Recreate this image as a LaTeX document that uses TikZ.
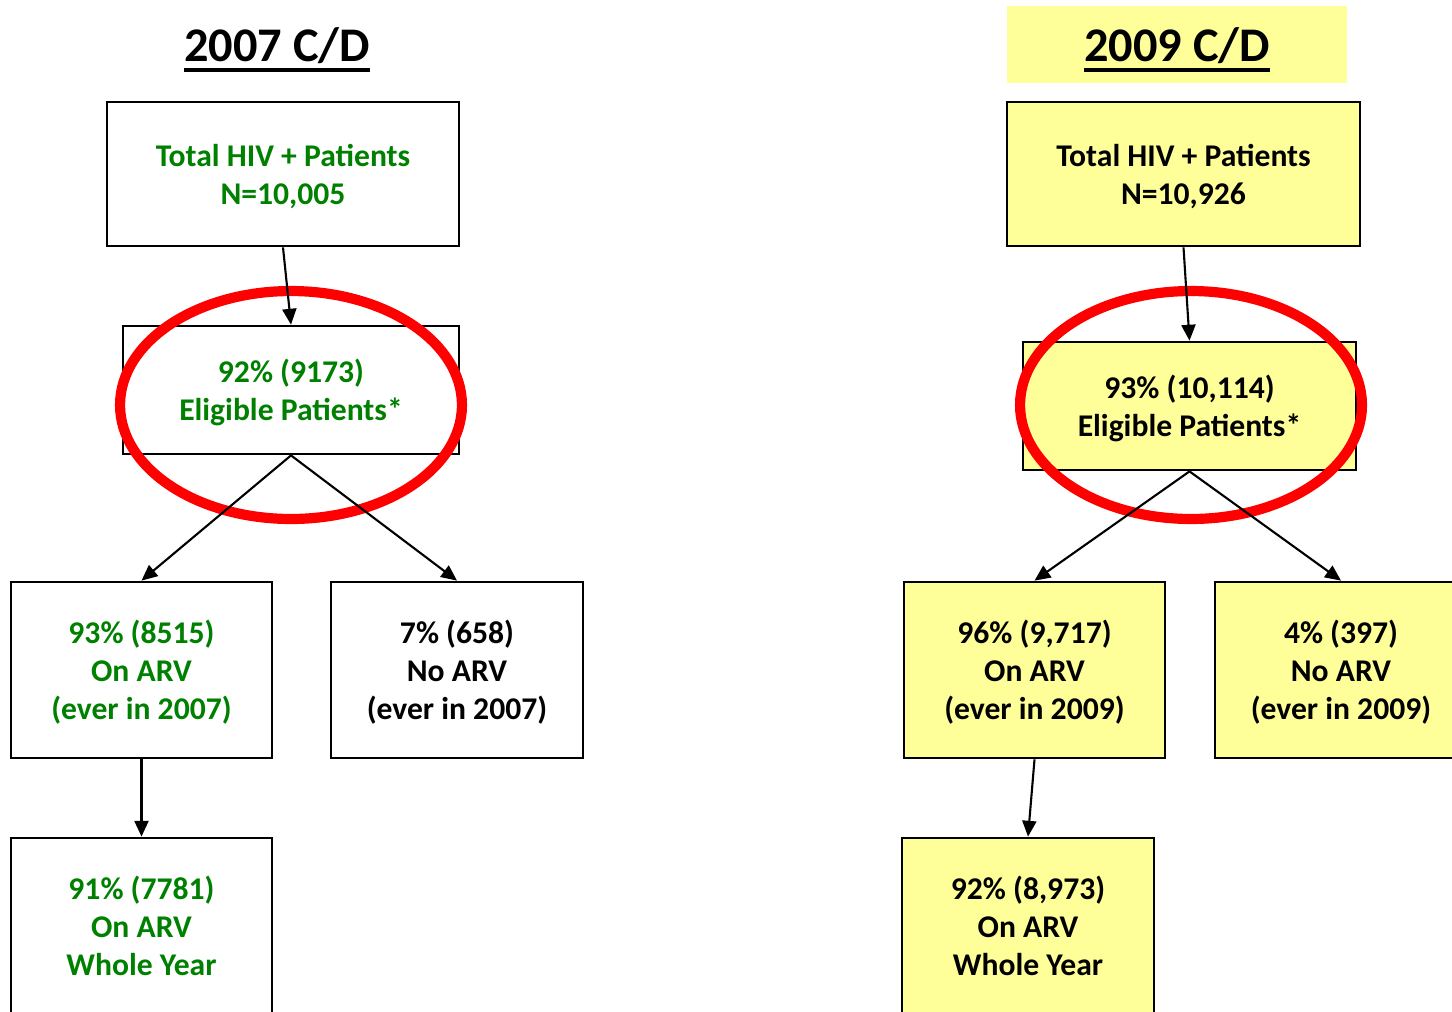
\documentclass[tikz,border=0pt]{standalone}
\usepackage{fontspec}
\setmainfont{Carlito}
\usetikzlibrary{arrows.meta}
\definecolor{cdgreen}{RGB}{0,128,0}
\definecolor{cdyellow}{RGB}{255,255,153}

\begin{document}
\begin{tikzpicture}[x=0.02cm, y=-0.02cm,
  box/.style={draw, line width=1.6pt, align=center, inner sep=0pt,
    text depth=-2pt, font=\fontsize{18}{21.5}\selectfont\bfseries},
  gbox/.style={box, text=cdgreen},
  ybox/.style={box, fill=cdyellow},
  heading/.style={inner sep=0pt, font=\fontsize{27.5}{32}\selectfont\bfseries},
  rule/.style={line width=2.2pt},
  flow/.style={line width=1.2pt, -{Triangle[length=9pt, width=8pt]}},
  ring/.style={red, line width=5.8pt}]
\useasboundingbox (0,0) rectangle (1452,1011);
\clip (0,0) rectangle (1452,1011);

% 2007
\node [heading] (title07) at (277,46) {2007 C/D};
\draw [rule] ([yshift=-4.5pt]title07.base west) -- ([yshift=-4.5pt]title07.base east);
\node [gbox, minimum width=7.04cm, minimum height=2.88cm] (top07) at (283,174)
  {Total HIV + Patients\\N=10,005};
\node [gbox, minimum width=6.72cm, minimum height=2.56cm] (elig07) at (291,390)
  {92\% (9173)\\Eligible Patients*};
\node [gbox, minimum width=5.22cm, minimum height=3.52cm] (on07) at (141.5,670)
  {93\% (8515)\\On ARV\\(ever in 2007)};
\node [box, minimum width=5.04cm, minimum height=3.52cm] (no07) at (457,670)
  {7\% (658)\\No ARV\\(ever in 2007)};
\node [gbox, minimum width=5.22cm, minimum height=3.52cm] (whole07) at (141.5,926)
  {91\% (7781)\\On ARV\\Whole Year};
\draw [ring] (291,405) ellipse [x radius=3.42cm, y radius=2.28cm];
\draw [flow] (top07.south) -- (elig07.north);
\draw [flow] (elig07.south) -- (on07.north);
\draw [flow] (elig07.south) -- (no07.north);
\draw [flow] (on07.south) -- (whole07.north);

% 2009
\node [fill=cdyellow, minimum width=6.8cm, minimum height=1.54cm] (band09) at (1177,44.5) {};
\node [heading] (title09) at (1177,46) {2009 C/D};
\draw [rule] ([yshift=-4.5pt]title09.base west) -- ([yshift=-4.5pt]title09.base east);
\node [ybox, minimum width=7.06cm, minimum height=2.88cm] (top09) at (1183.5,174)
  {Total HIV + Patients\\N=10,926};
\node [ybox, minimum width=6.66cm, minimum height=2.56cm] (elig09) at (1189.5,406)
  {93\% (10,114)\\Eligible Patients*};
\node [ybox, minimum width=5.22cm, minimum height=3.52cm] (on09) at (1034.5,670)
  {96\% (9,717)\\On ARV\\(ever in 2009)};
\node [ybox, minimum width=5.04cm, minimum height=3.52cm] (no09) at (1341,670)
  {4\% (397)\\No ARV\\(ever in 2009)};
\node [ybox, minimum width=5.04cm, minimum height=3.52cm] (whole09) at (1028,926)
  {92\% (8,973)\\On ARV\\Whole Year};
\draw [ring] (1191,405) ellipse [x radius=3.42cm, y radius=2.28cm];
\draw [flow] (top09.south) -- (elig09.north);
\draw [flow] (elig09.south) -- (on09.north);
\draw [flow] (elig09.south) -- (no09.north);
\draw [flow] (on09.south) -- (whole09.north);
\end{tikzpicture}
\end{document}
